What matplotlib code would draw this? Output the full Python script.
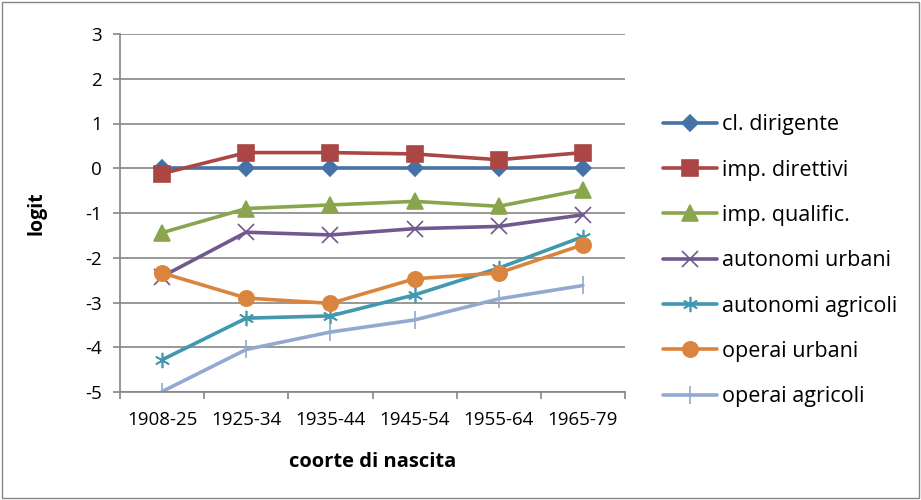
import matplotlib
matplotlib.use("Agg")
import matplotlib.pyplot as plt
from matplotlib.patches import Rectangle

plt.rcParams['font.family'] = ['Open Sans', 'DejaVu Sans']
plt.rcParams['axes.unicode_minus'] = False

cohorts = ["1908-25", "1925-34", "1935-44", "1945-54", "1955-64", "1965-79"]

cl_dirigente = [0, 0, 0, 0, 0, 0]
imp_direttivi = [-0.12, 0.35, 0.35, 0.32, 0.19, 0.35]
imp_qualific = [-1.44, -0.9, -0.82, -0.74, -0.85, -0.48]
autonomi_urbani = [-2.42, -1.43, -1.49, -1.35, -1.3, -1.04]
autonomi_agricoli = [-4.28, -3.35, -3.3, -2.83, -2.23, -1.53]
operai_urbani = [-2.34, -2.9, -3.02, -2.47, -2.34, -1.71]
operai_agricoli = [-4.99, -4.05, -3.66, -3.39, -2.92, -2.62]

series = [
    ("cl. dirigente", cl_dirigente, "#4572A7", "D", 8),
    ("imp. direttivi", imp_direttivi, "#AA4643", "s", 11),
    ("imp. qualific.", imp_qualific, "#89A54E", "^", 11),
    ("autonomi urbani", autonomi_urbani, "#71588F", "x", 11),
    ("autonomi agricoli", autonomi_agricoli, "#4198AF", (6, 2, 0), 11),
    ("operai urbani", operai_urbani, "#DB843D", "o", 11),
    ("operai agricoli", operai_agricoli, "#93A9CF", "|", 13),
]

fig = plt.figure(figsize=(9.21, 5), dpi=100)
ax = fig.add_axes([120 / 921, 108 / 500, 505 / 921, 358 / 500])

x = list(range(len(cohorts)))
for label, vals, color, marker, ms in series:
    ax.plot(x, vals, color=color, lw=2.6, marker=marker, markersize=ms,
            markerfacecolor=color, markeredgecolor=color, markeredgewidth=1.2,
            label=label, solid_capstyle="round")

ax.set_xlim(-0.5, 5.5)
ax.set_ylim(-5, 3)
ax.set_yticks(range(-5, 4))
ax.set_xticks(x)
ax.set_xticklabels(cohorts)
ax.set_xticks([i - 0.5 for i in range(7)], minor=True)
ax.tick_params(axis="x", which="major", length=0, pad=14, labelsize=13.5)
ax.tick_params(axis="x", which="minor", length=5, color="#868686", width=1.2)
ax.tick_params(axis="y", length=5, color="#868686", width=1.2, labelsize=13.5, pad=8)
ax.grid(axis="y", color="#868686", lw=1.2)
ax.set_axisbelow(True)
for s in ["top", "right"]:
    ax.spines[s].set_visible(False)
for s in ["left", "bottom"]:
    ax.spines[s].set_color("#868686")
    ax.spines[s].set_linewidth(1.2)

ax.set_ylabel("logit", fontsize=14, fontweight="bold", labelpad=28)
ax.set_xlabel("coorte di nascita", fontsize=14.5, fontweight="bold", labelpad=16)

fig.legend(loc="upper left", bbox_to_anchor=(644 / 921, 1 - 95 / 500),
           frameon=False, fontsize=15.5, handlelength=2.5, handletextpad=0.2,
           labelspacing=1.13)

fig.patches.append(Rectangle((0.002, 0.004), 0.996, 0.992, transform=fig.transFigure,
                             fill=False, edgecolor="#868686", lw=1))

fig.savefig("out.png", dpi=100)
